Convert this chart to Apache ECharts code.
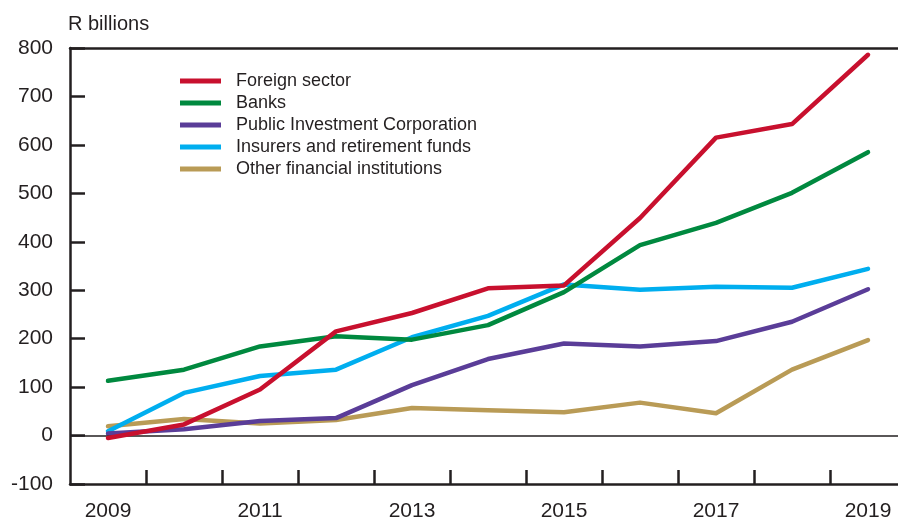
<!DOCTYPE html>
<html>
<head>
<meta charset="utf-8">
<script src="https://cdn.jsdelivr.net/npm/echarts@6/dist/echarts.min.js"></script>
<style>
html,body{margin:0;padding:0;background:#fff;}
#chart{width:898px;height:522px;}
</style>
</head>
<body>
<div id="chart"></div>
<script>
var years = [2009, 2010, 2011, 2012, 2013, 2014, 2015, 2016, 2017, 2018, 2019];
var foreignSector = [-5, 23, 95, 215, 253, 304, 310, 449, 615, 643, 786];
var banks = [113, 136, 184, 205, 198, 228, 296, 393, 439, 501, 585];
var pic = [4, 13, 30, 36, 104, 158, 190, 184, 195, 235, 302];
var insurers = [9, 88, 123, 136, 203, 247, 312, 301, 307, 305, 344];
var otherFin = [19, 34, 25, 32, 57, 52, 48, 68, 46, 136, 197];
var seriesNames = ['Foreign sector','Banks','Public Investment Corporation','Insurers and retirement funds','Other financial institutions'];
var xTickLabels = [2009, 2011, 2013, 2015, 2017, 2019];
var yTicks = { min: -100, max: 800, interval: 100 };

var colors = ['#c8102e','#00893f','#5a3d98','#00aeef','#b99b56'];
var datas = [foreignSector, banks, pic, insurers, otherFin];
var zs = [6,5,4,3,2];
var font = 'Liberation Sans, Arial, Helvetica, sans-serif';
var ink = '#231f20';

// x axis: each year occupies one band; band boundaries between years carry the ticks
var xMin = years[0] - 0.5;
var xMax = xMin + 828 / 76;
var boundaries = years.slice(0, -1).map(function(y){ return y + 0.5; });

var series = seriesNames.map(function(n,i){
  return {
    name: n, type: 'line', symbol: 'none', z: zs[i],
    data: years.map(function(y, k){ return [y, datas[i][k]]; }),
    lineStyle: { width: 4.5, color: colors[i], cap: 'round', join: 'round' },
    itemStyle: { color: colors[i] }
  };
});
series.push({
  type: 'line', data: [], silent: true, z: 1,
  markLine: { silent: true, symbol: 'none', label: { show: false },
    lineStyle: { color: ink, width: 1.5, type: 'solid' },
    data: [{ yAxis: 0 }] }
});

var chart = echarts.init(document.getElementById('chart'));
chart.setOption({
  animation: false,
  backgroundColor: '#fff',
  grid: { left: 70, top: 48, right: 0, height: 442.5, show: false },
  title: { text: 'R billions', left: 68, top: 14, padding: 0, textStyle: { fontFamily: font, fontSize: 20, fontWeight: 'normal', color: ink } },
  legend: {
    orient: 'vertical', left: 180, top: 72, padding: 0, itemWidth: 41, itemHeight: 5, itemGap: 4, icon: 'rect',
    data: seriesNames,
    textStyle: { fontFamily: font, fontSize: 18, color: ink, lineHeight: 18, padding: [0,0,0,10] }
  },
  xAxis: [{
    type: 'value', min: xMin, max: xMax, position: 'bottom',
    axisLine: { show: true, onZero: false, lineStyle: { color: ink, width: 2.5 } },
    axisTick: { show: true, inside: true, length: 14, customValues: boundaries, lineStyle: { color: ink, width: 2.5 } },
    axisLabel: { customValues: xTickLabels, margin: 17, fontFamily: font, fontSize: 21, color: ink, formatter: function(v){ return String(Math.round(v)); } },
    splitLine: { show: false }
  }, {
    type: 'value', min: xMin, max: xMax, position: 'top',
    axisLine: { show: true, onZero: false, lineStyle: { color: ink, width: 2.5 } },
    axisTick: { show: false }, axisLabel: { show: false }, splitLine: { show: false }
  }],
  yAxis: {
    type: 'value', min: yTicks.min, max: yTicks.max, interval: yTicks.interval,
    axisLine: { show: true, onZero: false, lineStyle: { color: ink, width: 2.5 } },
    axisTick: { show: true, inside: true, length: 15, lineStyle: { color: ink, width: 2.5 } },
    axisLabel: { margin: 17, fontFamily: font, fontSize: 21, color: ink },
    splitLine: { show: false }
  },
  series: series
});
</script>
</body>
</html>
